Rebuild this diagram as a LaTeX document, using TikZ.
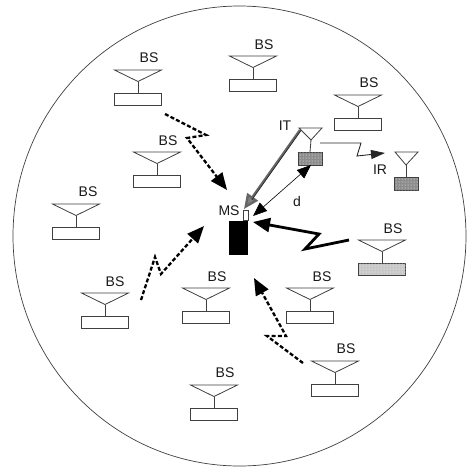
\documentclass[tikz,border=0pt]{standalone}
\usepackage{fontspec}
\setmainfont{Liberation Sans}
\usetikzlibrary{arrows.meta,patterns,calc,shapes.geometric}
\definecolor{lineg}{gray}{0.25}
\tikzset{
 x=1pt,y=-1pt,
 lbl/.style={font=\fontsize{14}{14}\selectfont,inner sep=0pt,text=black!90},
 boxw/.style={draw=lineg,fill=white,line width=0.8pt,minimum width=#1,minimum height=12pt,inner sep=0pt},
 ant/.style={draw=lineg,line width=0.8pt},
 bighead/.style={-{Triangle[length=17pt,width=14pt]}},
 link/.style={black,line width=2.3pt,dash pattern=on 4pt off 2.2pt,bighead},
 shadedbox/.style={fill=black!45,postaction={pattern=dots,pattern color=white}},
 lightbox/.style={fill=black!22,postaction={pattern=dots,pattern color=white}}
}
% #1 name, #2 centre x, #3 top y, #4 half width, #5 box style extras, #6 label, #7 label x, #8 label y
\newcommand{\station}[8]{%
 \coordinate (#1tl) at (#2-#4,#3);
 \coordinate (#1tr) at (#2+#4,#3);
 \coordinate (#1ap) at (#2,#3+11.5);
 \node[boxw=2*#4 pt,#5,anchor=north] (#1box) at (#2,#3+22.5) {};
 \draw[ant] (#1tl) -- (#1tr) -- (#1ap) -- cycle;
 \draw[ant] (#1ap) -- (#1box.north);
 \node[lbl] (#1lab) at (#7,#8) {#6};
}
\begin{document}
\begin{tikzpicture}
\useasboundingbox (0,0) rectangle (469,467);
\fill[white] (0,0) rectangle (469,467);
\node[draw=lineg,line width=0.7pt,ellipse,minimum width=453pt,minimum height=460pt,inner sep=0pt] (cell) at (239.5,236) {};
\station{a}{138}{70}{23.5}{}{BS}{149}{58}
\station{b}{157}{152}{23.5}{}{BS}{168}{141}
\station{c}{253}{56}{23.5}{}{BS}{264}{45}
\station{e}{358}{95}{23.5}{}{BS}{369}{83}
\station{f}{76}{204}{23.5}{}{BS}{88}{192}
\station{g}{105}{293}{23.5}{}{BS}{115}{282}
\station{h}{206}{288}{23.5}{}{BS}{217}{277}
\station{i}{310}{288}{23.5}{}{BS}{322}{277}
\station{j}{335}{361}{23.5}{}{BS}{346}{349}
\station{k}{214}{385}{23.5}{}{BS}{225}{373}
\station{m}{382}{240}{23.5}{lightbox}{BS}{393}{229}
% IT and IR
\coordinate (ittl) at (299,128); \coordinate (ittr) at (322,128); \coordinate (itap) at (311,140);
\node[boxw=24pt,minimum height=13pt,shadedbox,anchor=north] (itbox) at (310,152) {};
\draw[ant] (ittl) -- (ittr) -- (itap) -- cycle; \draw[ant] (itap) -- (itbox.north);
\node[lbl] (itlab) at (285,126) {IT};
\coordinate (irtl) at (395,152); \coordinate (irtr) at (418,152); \coordinate (irap) at (406,165);
\node[boxw=24pt,minimum height=13pt,shadedbox,anchor=north] (irbox) at (406,177) {};
\draw[ant] (irtl) -- (irtr) -- (irap) -- cycle; \draw[ant] (irap) -- (irbox.north);
\node[lbl] (irlab) at (380,170) {IR};
% MS
\node[fill=black,minimum width=19pt,minimum height=34pt,inner sep=0pt] (ms) at (238.5,238) {};
\node[draw=lineg,fill=white,line width=0.7pt,minimum width=5pt,minimum height=10pt,inner sep=0pt,anchor=south] (ant) at (246,221) {};
\node[lbl] (mslab) at (229,211) {MS};
\node[lbl] (dlab) at (297,201) {d};
% links
\coordinate (a0) at (165,114); \coordinate (a1) at (206,135); \coordinate (a2) at (187,138); \coordinate (a3) at (227,190);
\draw[link] (a0) -- (a1) -- (a2) -- (a3);
\coordinate (g0) at (141,300); \coordinate (g1) at (155,257); \coordinate (g2) at (161,274); \coordinate (g3) at (204,226);
\draw[link] (g0) -- (g1) -- (g2) -- (g3);
\coordinate (j0) at (303,363); \coordinate (j1) at (267,336); \coordinate (j2) at (286,336); \coordinate (j3) at (254,278);
\draw[link] (j0) -- (j1) -- (j2) -- (j3);
\coordinate (m0) at (349,240); \coordinate (m1) at (305,249); \coordinate (m2) at (319,234); \coordinate (m3) at (253,222);
\draw[black,line width=2.8pt,bighead] (m0) -- (m1) -- (m2) -- (m3);
\coordinate (d0) at (311,165); \coordinate (d1) at (253,216);
\draw[black,line width=0.6pt,{Triangle[length=14pt,width=11pt]}-{Triangle[length=14pt,width=11pt]}] (d0) -- (d1);
\coordinate (t0) at (300,130); \coordinate (t1) at (244,209);
\draw[black!60,line width=2.4pt,-{Triangle[length=15pt,width=13pt,fill=black!50,color=black!60]}] (t0) -- (t1);
\draw[black!85,line width=0.7pt,shorten >=12pt] ($(t0)+(0.9,0.6)$) -- ($(t1)+(0.9,0.6)$);
\coordinate (r0) at (320,143); \coordinate (r1) at (361,143); \coordinate (r2) at (357,156); \coordinate (r3) at (385,153);
\draw[black!85,line width=0.9pt,-{Triangle[length=14pt,width=9pt]}] (r0) -- (r1) -- (r2) -- (r3);
\end{tikzpicture}
\end{document}
